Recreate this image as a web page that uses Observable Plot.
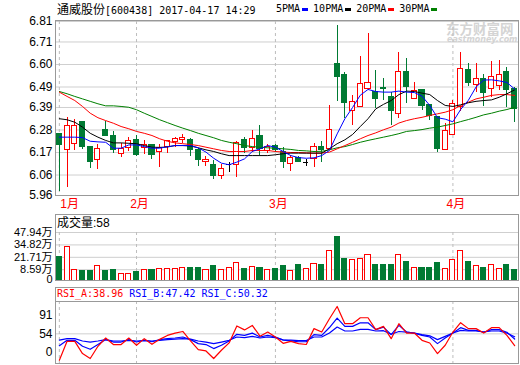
<!DOCTYPE html>
<html><head><meta charset="utf-8">
<script src="https://cdn.jsdelivr.net/npm/d3@7"></script>
<script src="https://cdn.jsdelivr.net/npm/@observablehq/plot@0.6"></script>
<style>
body{margin:0;background:#fff}
#wrap{position:relative;width:520px;height:365px;overflow:hidden;background:#fff;font-family:"Liberation Sans","Noto Sans CJK SC",sans-serif;color:#000}
.abs{position:absolute;white-space:nowrap}
.mono{font-family:"DejaVu Sans Mono","Liberation Mono",monospace;font-size:10px}
.cjk{font-family:"Noto Sans CJK SC",sans-serif;font-size:12px}
.box{position:absolute;border:1px solid #999;box-sizing:border-box;pointer-events:none}
.lg i{display:inline-block;width:6px;height:3px;margin:0 5px 0 2px;vertical-align:middle}
</style></head><body>
<div id="wrap">
  <div class="abs" style="left:446px;top:21px;color:#d4d4d4;font:bold 13.5px 'Noto Sans CJK SC';line-height:14px">东方财富网</div>
  <div class="abs" style="left:447px;top:36px;color:#d4d4d4;font:italic bold 8px 'DejaVu Sans';line-height:8px">eastmoney.com</div>
  <div class="abs" id="c1" style="left:0;top:0"></div>
  <div class="abs" id="c2" style="left:0;top:214px"></div>
  <div class="abs" id="c3" style="left:0;top:287px"></div>
  <div class="box" style="left:55px;top:20px;width:464px;height:176px"></div>
  <div class="box" style="left:55px;top:214px;width:464px;height:67px"></div>
  <div class="box" style="left:55px;top:287px;width:464px;height:77px"></div>
  <div class="abs" style="left:55px;top:301px;width:464px;height:1px;background:#999"></div>
  <div class="abs" style="left:57px;top:2px;line-height:14px"><span class="cjk">通威股份</span><span class="mono">[600438] 2017-04-17 14:29</span></div>
  <div class="abs mono lg" id="legend" style="left:276px;top:2px;line-height:14px"></div>
  <div class="abs" style="left:57px;top:215px;line-height:14px"><span class="cjk">成交量</span><span style="font-size:12px">:58</span></div>
  <div class="abs mono" id="rsihead" style="left:57px;top:288px;line-height:12px"></div>
</div>
<script>
const opens  = [6.261,6.183,6.213,6.321,6.199,6.134,6.282,6.253,6.164,6.193,6.229,6.193,6.209,6.172,6.196,6.220,6.232,6.229,6.180,6.123,6.111,6.054,6.110,6.111,6.229,6.191,6.253,6.175,6.204,6.172,6.115,6.142,6.123,6.139,6.199,6.188,6.603,6.551,6.372,6.391,6.481,6.465,6.486,6.440,6.356,6.562,6.432,6.476,6.400,6.342,6.183,6.257,6.391,6.571,6.501,6.530,6.481,6.497,6.562,6.481];
const highs  = [6.263,6.340,6.331,6.322,6.200,6.209,6.322,6.273,6.213,6.245,6.253,6.229,6.210,6.209,6.225,6.245,6.257,6.240,6.188,6.150,6.131,6.111,6.123,6.225,6.242,6.277,6.302,6.209,6.210,6.196,6.155,6.150,6.136,6.215,6.225,6.400,6.790,6.562,6.449,6.639,6.753,6.571,6.530,6.465,6.660,6.628,6.513,6.480,6.402,6.345,6.310,6.424,6.660,6.603,6.603,6.551,6.616,6.620,6.587,6.490];
const lows   = [5.980,6.000,6.180,6.183,6.093,6.086,6.250,6.164,6.144,6.176,6.150,6.160,6.134,6.098,6.164,6.193,6.213,6.150,6.102,6.103,6.040,6.040,6.074,6.050,6.164,6.172,6.155,6.164,6.170,6.090,6.079,6.120,6.103,6.098,6.123,6.180,6.420,6.335,6.302,6.390,6.473,6.383,6.424,6.302,6.335,6.410,6.430,6.375,6.326,6.172,6.180,6.255,6.372,6.492,6.465,6.395,6.440,6.473,6.391,6.318];
const closes = [6.209,6.300,6.300,6.199,6.123,6.188,6.253,6.183,6.188,6.225,6.160,6.209,6.160,6.191,6.224,6.237,6.242,6.183,6.131,6.131,6.053,6.090,6.110,6.215,6.191,6.237,6.188,6.196,6.180,6.123,6.142,6.123,6.123,6.196,6.180,6.281,6.541,6.411,6.419,6.506,6.509,6.432,6.478,6.372,6.562,6.489,6.470,6.395,6.346,6.188,6.273,6.408,6.579,6.509,6.530,6.460,6.541,6.551,6.476,6.383];
const volumes = [22.0,32.1,7.8,7.1,7.1,12.1,7.1,7.8,4.3,4.3,6.0,8.6,7.8,8.9,8.9,9.7,10.7,10.0,10.0,7.8,12.1,8.6,10.7,15.6,8.9,11.4,10.7,7.8,9.7,12.1,6.8,13.2,9.7,14.2,13.2,28.1,43.4,20.3,18.5,20.3,23.8,13.2,13.2,13.2,23.8,16.7,10.7,10.7,10.7,15.6,9.0,18.5,28.1,16.7,12.1,10.7,13.2,9.7,13.2,7.8];
const ma5  = [6.245,6.245,6.245,6.243,6.225,6.222,6.220,6.191,6.191,6.207,6.207,6.199,6.191,6.191,6.198,6.204,6.204,6.204,6.193,6.172,6.142,6.118,6.110,6.123,6.139,6.175,6.188,6.204,6.196,6.175,6.155,6.145,6.142,6.144,6.155,6.180,6.261,6.335,6.390,6.450,6.478,6.468,6.465,6.465,6.470,6.465,6.463,6.445,6.400,6.340,6.333,6.320,6.380,6.425,6.490,6.524,6.525,6.520,6.512,6.480];
const ma10 = [6.335,6.330,6.318,6.294,6.264,6.245,6.229,6.217,6.217,6.215,6.213,6.204,6.196,6.195,6.197,6.204,6.204,6.202,6.193,6.183,6.175,6.164,6.155,6.155,6.155,6.155,6.155,6.155,6.159,6.164,6.167,6.167,6.167,6.167,6.167,6.188,6.213,6.232,6.258,6.297,6.335,6.383,6.405,6.424,6.453,6.470,6.468,6.460,6.453,6.424,6.400,6.395,6.403,6.413,6.420,6.424,6.427,6.440,6.457,6.476];
const ma20 = [6.465,6.444,6.424,6.395,6.362,6.340,6.326,6.313,6.297,6.286,6.273,6.264,6.253,6.237,6.225,6.217,6.213,6.209,6.204,6.196,6.188,6.180,6.175,6.175,6.175,6.180,6.180,6.180,6.175,6.172,6.170,6.170,6.168,6.167,6.167,6.172,6.188,6.204,6.220,6.237,6.253,6.266,6.281,6.294,6.314,6.326,6.335,6.342,6.351,6.359,6.367,6.379,6.400,6.416,6.432,6.440,6.449,6.453,6.453,6.449];
const ma30 = [6.468,6.457,6.444,6.432,6.420,6.408,6.398,6.398,6.395,6.391,6.379,6.362,6.346,6.330,6.316,6.302,6.289,6.277,6.264,6.253,6.242,6.229,6.220,6.213,6.204,6.199,6.196,6.193,6.191,6.188,6.185,6.180,6.178,6.175,6.176,6.183,6.193,6.199,6.209,6.220,6.229,6.237,6.245,6.253,6.262,6.273,6.277,6.282,6.289,6.294,6.302,6.310,6.321,6.331,6.342,6.354,6.362,6.372,6.380,6.391];
const rsiA = [20.5,44.5,44.5,29.0,22.7,38.2,48.7,40.4,40.4,48.7,39.5,47.9,40.7,47.0,52.0,55.0,57.0,45.0,34.0,32.3,22.7,33.2,42.5,64.0,59.0,64.7,51.0,56.3,50.0,42.0,44.5,41.6,40.5,60.6,56.3,73.2,88.7,66.9,66.9,74.4,74.4,59.3,63.5,47.9,66.9,55.0,55.0,45.8,42.4,29.0,39.5,56.3,68.1,60.6,60.6,55.0,61.8,61.8,52.1,38.96];
const rsiB = [39.0,45.8,45.8,38.2,34.4,40.4,46.7,43.6,43.6,46.7,43.6,46.2,44.0,46.7,47.9,48.7,50.0,46.7,41.6,40.4,35.3,39.5,44.9,53.4,52.1,55.0,50.0,52.1,50.0,46.0,45.0,44.0,44.0,53.0,52.0,62.0,74.0,63.5,63.5,68.0,68.0,59.3,62.6,53.0,64.7,56.3,55.0,52.0,50.0,41.6,48.7,55.0,61.8,58.4,58.4,56.0,59.3,59.3,56.0,47.42];
const rsiC = [46.0,47.9,47.9,44.9,43.6,44.9,46.7,44.9,44.9,45.8,44.9,45.5,44.9,45.8,46.7,47.2,47.9,47.2,44.9,43.6,41.6,43.6,45.8,50.0,49.2,50.8,48.7,50.0,49.2,46.5,46.0,45.5,45.5,50.0,50.0,55.0,62.6,57.6,57.6,59.7,59.7,57.6,58.0,53.5,57.0,56.3,55.0,53.0,51.5,46.7,50.8,55.0,58.4,57.6,57.6,56.5,57.6,57.6,55.0,50.32];
const monthLabels = ["1月","2月","3月","4月"];
const monthStartIdx = [0,10,28,51];
const priceTicks = [6.81,6.71,6.60,6.49,6.39,6.28,6.17,6.06,5.96];
const volTicks = [47.94,34.82,21.71,8.59];
const volFloor = -2.8;
const rsiTicks = [54];
const rsiDomain = [16.4,95];
const maNames = ["5PMA","10PMA","20PMA","30PMA"];
const maColors = ["#0000ff","#000000","#ff0000","#008000"];

const UP = "#ff0000", DOWN = "#007a33";
const candles = opens.map((o,i)=>({i, open:o, high:highs[i], low:lows[i], close:closes[i], vol:volumes[i]}));
const up = candles.filter(d=>d.close>d.open), dn = candles.filter(d=>d.close<d.open), flat = candles.filter(d=>d.close===d.open);
const months = monthLabels.map((m,k)=>({m, i:monthStartIdx[k]}));
const series = a => a.map((v,i)=>({i,v}));
const hw = 0.33;
const xs = {domain:[-0.5,59.5], axis:null};
const style = {background:"transparent", fontSize:"12px", fontFamily:"'Liberation Sans','Noto Sans CJK SC',sans-serif", color:"#000", overflow:"visible"};
const dash = Plot.ruleX(months, {x:"i", stroke:"#bdbdbd", strokeDasharray:"3,3"});

const p1 = Plot.plot({
  width:520, height:214, marginTop:21, marginBottom:19, marginLeft:55, marginRight:2, style,
  x: xs,
  y: {domain:[5.96,6.81], ticks:priceTicks, tickFormat:d3.format(".2f"), tickSize:0, tickPadding:3, label:null},
  marks: [
    Plot.ruleY(priceTicks, {stroke:"#cfcfcf"}),
    dash,
    Plot.ruleX(up, {x:"i", y1:"low", y2:"high", stroke:UP, shapeRendering:"crispEdges"}),
    Plot.ruleX(dn, {x:"i", y1:"low", y2:"high", stroke:DOWN, shapeRendering:"crispEdges"}),
    Plot.ruleX(flat, {x:"i", y1:"low", y2:"high", stroke:"#000", shapeRendering:"crispEdges"}),
    Plot.rect(up, {x1:d=>d.i-hw, x2:d=>d.i+hw, y1:"open", y2:"close", fill:"#fff", stroke:UP, shapeRendering:"crispEdges"}),
    Plot.rect(dn, {x1:d=>d.i-hw, x2:d=>d.i+hw, y1:"open", y2:"close", fill:DOWN, stroke:DOWN, shapeRendering:"crispEdges"}),
    Plot.ruleY(flat, {y:"close", x1:d=>d.i-hw, x2:d=>d.i+hw, stroke:"#000", shapeRendering:"crispEdges"}),
    Plot.line(series(ma30), {x:"i", y:"v", stroke:maColors[3], strokeWidth:1}),
    Plot.line(series(ma20), {x:"i", y:"v", stroke:maColors[2], strokeWidth:1}),
    Plot.line(series(ma10), {x:"i", y:"v", stroke:maColors[1], strokeWidth:1}),
    Plot.line(series(ma5), {x:"i", y:"v", stroke:maColors[0], strokeWidth:1}),
    Plot.text(months.slice(0,1), {x:"i", text:"m", frameAnchor:"bottom", dy:12, dx:1, textAnchor:"start", fill:"#ff0000"}),
    Plot.text(months.slice(1), {x:"i", text:"m", frameAnchor:"bottom", dy:12, dx:3, fill:"#ff0000"})
  ]
});
document.getElementById("c1").append(p1);

const p2 = Plot.plot({
  width:520, height:67, marginTop:18, marginBottom:1, marginLeft:55, marginRight:2,
  style: {...style, fontSize:"11px"},
  x: xs,
  y: {domain:[volFloor, volTicks[0]], ticks:volTicks, tickFormat:d=>d.toFixed(2)+"万", tickSize:0, tickPadding:3, label:null},
  marks: [
    Plot.ruleY(volTicks, {stroke:"#cfcfcf"}),
    dash,
    Plot.rect(candles.filter(d=>d.close>=d.open), {x1:d=>d.i-hw, x2:d=>d.i+hw, y1:volFloor, y2:"vol", fill:"#fff", stroke:UP, shapeRendering:"crispEdges"}),
    Plot.rect(candles.filter(d=>d.close<d.open), {x1:d=>d.i-hw, x2:d=>d.i+hw, y1:volFloor, y2:"vol", fill:DOWN, stroke:DOWN, shapeRendering:"crispEdges"}),
    Plot.text(["0"], {text:d=>d, frameAnchor:"bottom-left", dx:-3, dy:2, textAnchor:"end", fontSize:11})
  ]
});
document.getElementById("c2").append(p2);

const p3 = Plot.plot({
  width:520, height:77, marginTop:14, marginBottom:1, marginLeft:55, marginRight:2, style,
  x: xs,
  y: {domain:rsiDomain, ticks:rsiTicks, tickSize:0, tickPadding:3, label:null},
  marks: [
    Plot.ruleY(rsiTicks, {stroke:"#cfcfcf"}),
    dash,
    Plot.line(series(rsiC), {x:"i", y:"v", stroke:"#0000ff", strokeWidth:1.2}),
    Plot.line(series(rsiB), {x:"i", y:"v", stroke:"#0000ff", strokeWidth:1.2}),
    Plot.line(series(rsiA), {x:"i", y:"v", stroke:"#ff0000", strokeWidth:1.2}),
    Plot.text(["91"], {text:d=>d, frameAnchor:"top-left", dx:-3, dy:9, textAnchor:"end"}),
    Plot.text(["0"], {text:d=>d, frameAnchor:"bottom-left", dx:-3, dy:-8, textAnchor:"end"})
  ]
});
document.getElementById("c3").append(p3);

document.getElementById("legend").innerHTML = maNames.map((n,k)=>`<span>${n}<i style="background:${maColors[k]}"></i></span>`).join("");
const last = a => a[a.length-1].toFixed(2);
document.getElementById("rsihead").innerHTML =
  `<span style="color:#ff0000">RSI_A:${last(rsiA)}</span> <span style="color:#0000ff">RSI_B:${last(rsiB)}</span> <span style="color:#0000ff">RSI_C:${last(rsiC)}</span>`;
</script>
</body></html>
